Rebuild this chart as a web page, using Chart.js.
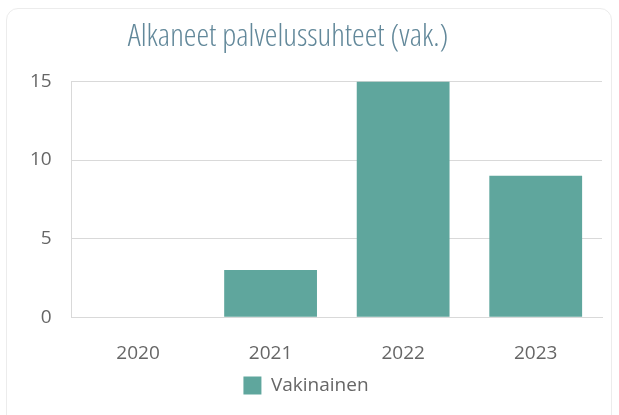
<!DOCTYPE html>
<html>
<head>
<meta charset="utf-8">
<script src="https://cdn.jsdelivr.net/npm/chart.js@4"></script>
<style>
  body { margin: 0; background: #fff; }
  #wrap { position: relative; width: 619px; height: 415px; }
  #card {
    position: absolute; left: 6px; top: 8px; width: 606px; height: 420px;
    border: 1px solid #ececec; border-radius: 12px; box-sizing: border-box;
  }
  canvas { position: absolute; left: 0; top: 0; }
</style>
</head>
<body>
<div id="wrap">
  <div id="card"></div>
  <canvas id="chart" width="619" height="415"></canvas>
</div>
<script>
const years = ['2020', '2021', '2022', '2023'];
const vakinainen = [0, 3, 15, 9];
const yTicks = [0, 5, 10, 15];

const chart_config = {
    type: 'bar',
    data: {
        labels: years,
        datasets: [{
            label: 'Vakinainen',
            backgroundColor: '#5fa69d',
            data: vakinainen,
            barPercentage: 0.7,
            categoryPercentage: 1.0
        }]
    },
    options: {
        responsive: false,
        animation: false,
        layout: {
            padding: { left: 10, right: 17, top: 14, bottom: 10 }
        },
        scales: {
            x: {
                // pull the legend up closer to the year labels
                afterFit: axis => { axis.height -= 14; },
                grid: { display: false, drawTicks: false },
                border: { color: '#d9d9d9' },
                ticks: {
                    color: '#666',
                    font: { family: 'Open Sans', size: 19 },
                    padding: 25
                }
            },
            y: {
                min: 0,
                max: 15,
                afterBuildTicks: axis => { axis.ticks = yTicks.map(v => ({ value: v })); },
                grid: { color: '#d9d9d9', drawTicks: false },
                border: { color: '#d9d9d9' },
                ticks: {
                    color: '#666',
                    font: { family: 'Open Sans', size: 19 },
                    padding: 20
                }
            }
        },
        plugins: {
            title: {
                display: true,
                // trailing spaces nudge the centred title a bit to the left
                text: 'Alkaneet palvelussuhteet (vak.)      ',
                color: '#62889a',
                font: { family: 'Open Sans', size: 32, weight: 'condensed 300' },
                padding: { top: 4, bottom: 25 }
            },
            legend: {
                position: 'bottom',
                labels: {
                    color: '#666',
                    boxWidth: 18,
                    boxHeight: 18,
                    font: { family: 'Open Sans', size: 19 },
                    padding: 0
                }
            },
            tooltip: { enabled: false }
        }
    }
};
var chart = new Chart(
    document.getElementById('chart'),
    chart_config
);
</script>
</body>
</html>
